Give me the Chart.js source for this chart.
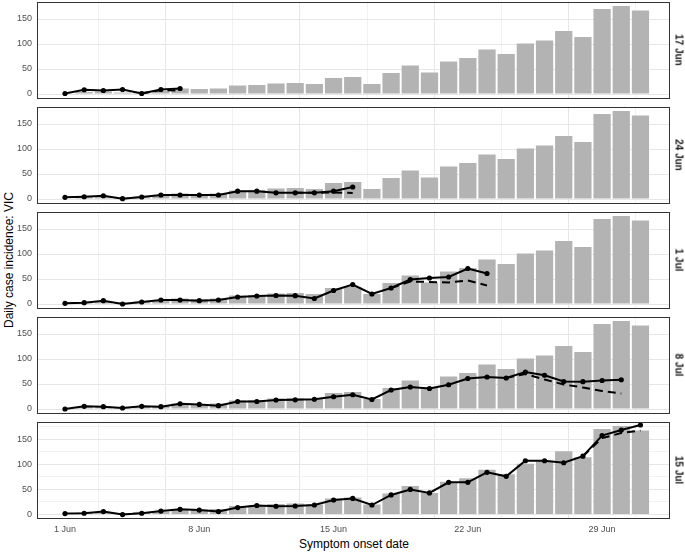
<!DOCTYPE html>
<html>
<head>
<meta charset="utf-8">
<script src="https://cdn.jsdelivr.net/npm/chart.js@4.4.1/dist/chart.umd.min.js"></script>
<style>
  body { margin: 0; width: 685px; height: 552px; overflow: hidden; background: #fff; position: relative;
         font-family: "Liberation Sans", Arial, sans-serif; }
  canvas { position: absolute; left: 0; }
  .strip { position: absolute; left: 679px; transform: translate(-50%, -50%) rotate(90deg);
           font-weight: bold; font-size: 10px; color: #1a1a1a; white-space: nowrap; }
  .ytitle { position: absolute; left: 9px; top: 260px; transform: translate(-50%, -50%) rotate(-90deg);
            font-size: 12px; color: #000; white-space: nowrap; }
  .xtitle { position: absolute; left: 354px; top: 544px; transform: translate(-50%, -50%);
            font-size: 12px; color: #000; white-space: nowrap; }
</style>
</head>
<body>
<div class="ytitle">Daily case incidence: VIC</div>
<div class="xtitle">Symptom onset date</div>
<script>
// symptom onset dates, 1 Jun .. 1 Jul
const dates = ['1 Jun', '2 Jun', '3 Jun', '4 Jun', '5 Jun', '6 Jun', '7 Jun', '8 Jun', '9 Jun', '10 Jun',
  '11 Jun', '12 Jun', '13 Jun', '14 Jun', '15 Jun', '16 Jun', '17 Jun', '18 Jun', '19 Jun', '20 Jun',
  '21 Jun', '22 Jun', '23 Jun', '24 Jun', '25 Jun', '26 Jun', '27 Jun', '28 Jun', '29 Jun', '30 Jun', '1 Jul'];

// final case counts (grey bars, same in every panel)
const cases = [1, 4, 5, 3, 5, 6, 11, 10, 11, 17, 18, 21, 22, 20, 32, 34, 20, 42, 57, 43,
  65, 72, 89, 80, 101, 107, 126, 114, 170, 176, 167];

// panel labels (data as known on these dates)
const panels = ['17 Jun', '24 Jun', '1 Jul', '8 Jul', '15 Jul'];

// solid line: counts known at each date
const known17Jun = [1, 8.5, 7, 9, 1, 9, 11];
const known24Jun = [3.3, 4.5, 6.5, 0.7, 4, 8, 8, 8, 8, 15.6, 15.6, 12.4, 12.4, 12.4, 15.6, 24];
const known1Jul = [1.3, 2.6, 6.6, 0, 4, 8, 8, 6.6, 8, 14, 16, 17, 16.6, 11, 27, 39, 20, 32, 49, 52, 54, 71, 61];
const known8Jul = [0, 5.3, 4.6, 2, 5.3, 4.6, 10.5, 9.2, 6.6, 15, 15, 18, 18.4, 19.5, 24.5, 28.5, 19, 38,
  44, 41, 48.5, 61, 64, 62, 74, 67.5, 55, 54.6, 57, 58.5];
const known15Jul = [2, 2.6, 6, 0, 2.6, 7, 10.5, 9, 6, 14, 18, 16.5, 17, 19, 29, 32, 19, 39, 50, 43,
  64, 64, 84, 76, 107, 107, 103, 116, 157, 168, 178];

// dashed line (only where it departs from the solid one)
const dashed17Jun = [null, null, null, null, 1, 8, 7];
const dashed24Jun = [null, null, null, null, null, null, null, null, null, null, null, null, 12.4, 12.4, 13, 12];
const dashed1Jul = [null, null, null, null, null, null, null, null, null, null, null, null, null, null, null, null,
  null, 32, 45, 44, 43, 47, 37];
const dashed8Jul = [null, null, null, null, null, null, null, null, null, null, null, null, null, null, null, null,
  null, null, null, null, null, null, null, 62, 70, 59, 49, 43, 36, 31];
const dashed15Jul = [null, null, null, null, null, null, null, null, null, null, null, null, null, null, null, null,
  null, null, null, null, null, null, null, null, null, null, null, 116, 152, 162, 167];

const knownSeries = [known17Jun, known24Jun, known1Jul, known8Jul, known15Jul];
const dashedSeries = [dashed17Jun, dashed24Jun, dashed1Jul, dashed8Jul, dashed15Jul];

const xTicks = [0, 3.5, 7, 10.5, 14, 17.5, 21, 24.5, 28];
const yTicks = [0, 25, 50, 75, 100, 125, 150, 175];

const toPoints = arr => arr.map((v, i) => v == null ? null : { x: i, y: v }).filter(p => p);

const noPad = s => { s.paddingTop = 0; s.paddingBottom = 0; s.paddingLeft = 0; s.paddingRight = 0; };

const borderPlugin = {
  id: 'panelBorder',
  afterDraw(chart) {
    const a = chart.chartArea, c = chart.ctx;
    c.save();
    c.strokeStyle = '#333333';
    c.lineWidth = 1;
    c.strokeRect(Math.round(a.left) + 0.5, Math.round(a.top) + 0.5,
      Math.round(a.right - a.left) - 1, Math.round(a.bottom - a.top) - 1);
    c.restore();
  }
};

panels.forEach((label, k) => {
  const last = k === panels.length - 1;
  const canvas = document.createElement('canvas');
  const h = last ? 133 : 102;
  canvas.width = 685;
  canvas.height = h;
  canvas.style.top = (105 * k - 1) + 'px';
  document.body.appendChild(canvas);

  const strip = document.createElement('div');
  strip.className = 'strip';
  strip.style.top = (105 * k + 49.5) + 'px';
  strip.textContent = label;
  document.body.appendChild(strip);

  new Chart(canvas, {
    data: {
      datasets: [
        {
          type: 'line', order: 0,
          data: toPoints(knownSeries[k]),
          borderColor: '#000', backgroundColor: '#000', borderWidth: 2,
          pointRadius: 2.6, pointBorderWidth: 0, pointHoverRadius: 2.6
        },
        {
          type: 'line', order: 1,
          data: toPoints(dashedSeries[k]),
          borderColor: '#000', borderWidth: 2, borderDash: [8, 5], pointRadius: 0
        },
        {
          type: 'bar', order: 2,
          data: cases.map((v, i) => ({ x: i, y: v })),
          backgroundColor: '#b3b3b3', borderWidth: 0,
          barPercentage: 1, categoryPercentage: 0.9
        }
      ]
    },
    options: {
      responsive: false,
      animation: false,
      events: [],
      layout: { padding: { top: 1, bottom: last ? 13 : 2, left: 0, right: 15 } },
      plugins: { legend: { display: false }, tooltip: { enabled: false } },
      scales: {
        x: {
          type: 'linear', min: -1.46, max: 31.54, offset: false,
          afterBuildTicks: s => { s.ticks = xTicks.map(v => ({ value: v })); },
          afterFit: s => { s.height = last ? 20 : 0; noPad(s); },
          border: { display: false },
          grid: {
            drawTicks: false,
            color: ctx => ctx.tick && ctx.tick.value % 7 === 0 ? '#e6e6e6' : '#f2f2f2'
          },
          ticks: {
            display: last, padding: 5, maxRotation: 0, autoSkip: false,
            color: '#4d4d4d', font: { family: '"Liberation Sans", Arial, sans-serif', size: 9 },
            callback: v => v % 7 === 0 ? dates[v] : ''
          }
        },
        y: {
          min: -8.8, max: 184.8,
          afterBuildTicks: s => { s.ticks = yTicks.map(v => ({ value: v })); },
          afterFit: s => { s.width = 37; noPad(s); },
          border: { display: false },
          grid: {
            drawTicks: false,
            color: ctx => ctx.tick && ctx.tick.value % 50 === 0 ? '#e6e6e6' : '#f2f2f2'
          },
          ticks: {
            padding: 5, color: '#4d4d4d',
            font: { family: '"Liberation Sans", Arial, sans-serif', size: 9 },
            callback: v => v % 50 === 0 ? String(v) : ''
          }
        }
      }
    },
    plugins: [borderPlugin]
  });
});
</script>
</body>
</html>
